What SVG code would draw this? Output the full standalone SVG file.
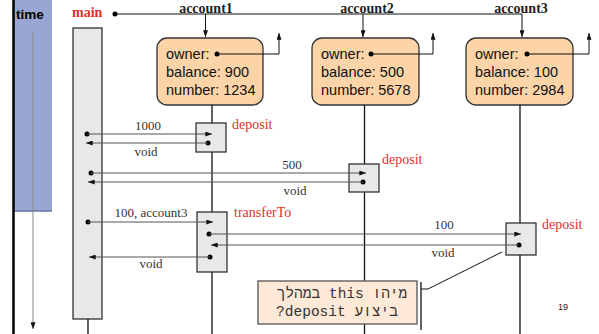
<svg xmlns="http://www.w3.org/2000/svg" width="599" height="334" viewBox="0 0 599 334">
<style>
.hdr{font-family:"Liberation Serif",serif;font-weight:bold;font-size:14px;fill:#222;text-anchor:middle}
.red{font-family:"Liberation Serif",serif;font-size:14px;fill:#e0302c}
.msg{font-family:"Liberation Serif",serif;font-size:13px;fill:#333;text-anchor:middle}
.fld{font-family:"Liberation Sans",Arial,sans-serif;font-size:14.5px;fill:#111}
.acc{fill:#fdd4a8;stroke:#333;stroke-width:1.3}
.act{fill:#e8e8e8;stroke:#333;stroke-width:1.3}
.life{stroke:#111;stroke-width:1.3;fill:none}
.ref{stroke:#111;stroke-width:1;fill:none}
.ml{stroke:#555;stroke-width:1;fill:none}
.dot{fill:#000}
.heb{font-family:"Liberation Mono","Courier New",monospace;font-size:14.5px;fill:#333;text-anchor:middle;direction:rtl}
</style>
<defs>
<marker id="ah" viewBox="0 0 8 6" refX="8" refY="3" markerWidth="7" markerHeight="5" orient="auto" markerUnits="userSpaceOnUse"><path d="M0,0 L8,3 L0,6 z" fill="#111"/></marker>
</defs>
<rect x="0" y="0" width="599" height="334" fill="#fff"/>

<g id="time">
<rect x="14" y="0" width="38" height="211" fill="#98a6d3"/>
<line x1="14" y1="211" x2="52" y2="211" stroke="#6a6fa6" stroke-width="1.5"/>
<line x1="13.5" y1="0" x2="13.5" y2="334" stroke="#000" stroke-width="2.5"/>
<text x="16" y="19" font-family="Liberation Sans,Arial,sans-serif" font-weight="bold" font-size="13.5" fill="#000">time</text>
<line x1="33" y1="31" x2="33" y2="329" stroke="#888" stroke-width="1" marker-end="url(#ah)"/>
</g>

<g id="main">
<text x="72" y="17" class="hdr" style="fill:#e0302c;text-anchor:start">main</text>
<rect x="73" y="28" width="29" height="291" class="act"/>
<line x1="88" y1="319" x2="88" y2="334" class="life"/>
</g>

<g id="account1">
<text x="206" y="12.5" class="hdr">account1</text>
<rect x="157" y="38" width="106" height="67" rx="10" class="acc"/>
<text x="166" y="59" class="fld">owner:</text>
<text x="166" y="77" class="fld">balance: 900</text>
<text x="166" y="95" class="fld">number: 1234</text>
</g>

<g id="account2">
<text x="367" y="12.5" class="hdr">account2</text>
<rect x="312" y="38" width="107" height="67" rx="10" class="acc"/>
<text x="321" y="59" class="fld">owner:</text>
<text x="321" y="77" class="fld">balance: 500</text>
<text x="321" y="95" class="fld">number: 5678</text>
</g>

<g id="account3">
<text x="521" y="12.5" class="hdr">account3</text>
<rect x="466" y="38" width="107" height="67" rx="10" class="acc"/>
<text x="475" y="59" class="fld">owner:</text>
<text x="475" y="77" class="fld">balance: 100</text>
<text x="475" y="95" class="fld">number: 2984</text>
</g>

<g id="connectors">
<circle cx="115" cy="14" r="2.5" class="dot"/>
<polyline points="115,14 522,14 522,37" class="ref" marker-end="url(#ah)"/>
<line x1="205.5" y1="14" x2="205.5" y2="37" class="ref" marker-end="url(#ah)"/>
<line x1="363" y1="14" x2="363" y2="37" class="ref" marker-end="url(#ah)"/>
<circle cx="217" cy="54" r="2.5" class="dot"/>
<polyline points="217,54 279,54 279,33" class="ref" marker-end="url(#ah)"/>
<circle cx="371" cy="54" r="2.5" class="dot"/>
<polyline points="371,54 433,54 433,33" class="ref" marker-end="url(#ah)"/>
<circle cx="527" cy="54" r="2.5" class="dot"/>
<polyline points="527,54 589,54 589,33" class="ref" marker-end="url(#ah)"/>
<line x1="212" y1="105" x2="212" y2="334" class="life"/>
<line x1="364.5" y1="105" x2="364.5" y2="334" class="life"/>
<line x1="520" y1="105" x2="520" y2="334" class="life"/>
</g>

<g id="activations">
<rect x="196" y="123" width="30" height="29" class="act"/>
<text x="232" y="129" class="red">deposit</text>
<rect x="349" y="164" width="30" height="28" class="act"/>
<text x="382" y="164" class="red">deposit</text>
<rect x="197" y="212" width="30" height="60" class="act"/>
<text x="234" y="217" class="red">transferTo</text>
<rect x="506" y="223" width="30" height="32" class="act"/>
<text x="542" y="229" class="red">deposit</text>
</g>

<g id="messages">
<circle cx="87" cy="134" r="2.5" class="dot"/>
<line x1="87" y1="134" x2="212" y2="134" class="ml" marker-end="url(#ah)"/>
<text x="148" y="130" class="msg">1000</text>
<circle cx="208" cy="143" r="2.5" class="dot"/>
<line x1="208" y1="143" x2="86" y2="143" class="ml" marker-end="url(#ah)"/>
<text x="146" y="156" class="msg">void</text>

<circle cx="91" cy="173" r="2.5" class="dot"/>
<line x1="91" y1="173" x2="366" y2="173" class="ml" marker-end="url(#ah)"/>
<text x="292" y="169" class="msg">500</text>
<circle cx="363" cy="182" r="2.5" class="dot"/>
<line x1="363" y1="182" x2="88" y2="182" class="ml" marker-end="url(#ah)"/>
<text x="295" y="195" class="msg">void</text>

<circle cx="88" cy="222" r="2.5" class="dot"/>
<line x1="88" y1="222" x2="213" y2="222" class="ml" marker-end="url(#ah)"/>
<text x="151" y="217" class="msg">100, account3</text>
<circle cx="209" cy="234" r="2.5" class="dot"/>
<line x1="209" y1="234" x2="521" y2="234" class="ml" marker-end="url(#ah)"/>
<text x="444" y="229" class="msg">100</text>
<circle cx="519" cy="245" r="2.5" class="dot"/>
<line x1="519" y1="245" x2="211" y2="245" class="ml" marker-end="url(#ah)"/>
<text x="443" y="257" class="msg">void</text>
<circle cx="210" cy="257" r="2.5" class="dot"/>
<line x1="210" y1="257" x2="89" y2="257" class="ml" marker-end="url(#ah)"/>
<text x="151" y="268" class="msg">void</text>
</g>

<g id="callout">
<rect x="258" y="281" width="159" height="43" fill="#fde9d6" stroke="#555" stroke-width="1.3"/>
<text x="342" y="298" class="heb" direction="rtl">מיהו this במהלך</text>
<text x="337" y="316" class="heb" direction="rtl">ביצוע deposit?</text>
<polyline points="421,282 421,330" fill="none" stroke="#111" stroke-width="1.3"/>
<polyline points="421,289 428,289 502,252" fill="none" stroke="#111" stroke-width="1"/>
</g>

<text x="563" y="310" font-family="Liberation Sans,Arial,sans-serif" font-size="9" fill="#222" text-anchor="middle">19</text>
</svg>
